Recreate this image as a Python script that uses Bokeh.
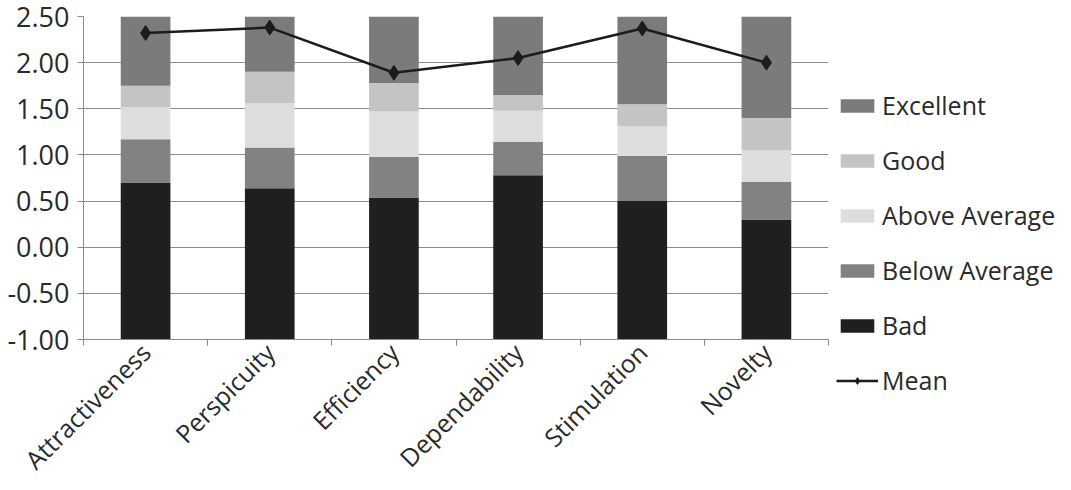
import math
from bokeh.plotting import figure
from bokeh.layouts import row
from bokeh.models import Range1d, FixedTicker, Legend, LegendItem, NumeralTickFormatter
from bokeh.embed import file_html
from bokeh.resources import INLINE

# UEQ scales and benchmark band boundaries
categories = ["Attractiveness", "Perspicuity", "Efficiency", "Dependability", "Stimulation", "Novelty"]
bad_upper = [0.70, 0.64, 0.54, 0.78, 0.50, 0.30]
below_avg_upper = [1.17, 1.08, 0.98, 1.14, 0.99, 0.71]
above_avg_upper = [1.52, 1.56, 1.47, 1.48, 1.31, 1.05]
good_upper = [1.75, 1.90, 1.78, 1.65, 1.55, 1.40]
scale_min = -1.0
scale_max = 2.5
means = [2.32, 2.38, 1.89, 2.05, 2.37, 2.00]
y_ticks = [-1.0, -0.5, 0.0, 0.5, 1.0, 1.5, 2.0, 2.5]

FONT = "Open Sans"
TEXT = "#2a2a2a"
GRID = "#8c8c8c"
MEAN_COLOR = "#1c1c1c"
band_colors = {
    "Bad": "#1f1f1f",
    "Below Average": "#828282",
    "Above Average": "#dedede",
    "Good": "#c4c4c4",
    "Excellent": "#7b7b7b",
}

n = len(categories)
xs = [i + 0.5 for i in range(n)]

p = figure(width=836, height=490, x_range=Range1d(0, n), y_range=Range1d(scale_min, scale_max),
           output_backend="svg", toolbar_location=None,
           min_border_left=83, min_border_right=8, min_border_top=16, min_border_bottom=150)
p.outline_line_color = None
p.background_fill_color = "white"
p.border_fill_color = "white"

bands = [
    ("Bad", [scale_min] * n, bad_upper),
    ("Below Average", bad_upper, below_avg_upper),
    ("Above Average", below_avg_upper, above_avg_upper),
    ("Good", above_avg_upper, good_upper),
    ("Excellent", good_upper, [scale_max] * n),
]
for name, lo, hi in bands:
    p.vbar(x=xs, bottom=lo, top=hi, width=0.4, fill_color=band_colors[name], line_color=None)

p.line(xs, means, line_color=MEAN_COLOR, line_width=2.5)
p.scatter(xs, means, marker="diamond", size=15, fill_color=MEAN_COLOR, line_color=MEAN_COLOR)

# axes
p.xgrid.visible = False
p.ygrid.grid_line_color = GRID
p.ygrid.grid_line_width = 1
p.yaxis.ticker = FixedTicker(ticks=y_ticks)
p.yaxis.formatter = NumeralTickFormatter(format="0.00")
p.yaxis.minor_tick_line_color = None
for ax in (p.xaxis[0], p.yaxis[0]):
    ax.axis_line_color = GRID
    ax.major_label_text_font = FONT
    ax.major_label_text_color = TEXT
p.yaxis.major_label_text_font_size = "27px"
p.xaxis.major_label_text_font_size = "25px"
p.yaxis.major_tick_line_color = GRID
p.yaxis.major_tick_in = 0
p.yaxis.major_tick_out = 6
p.yaxis.major_label_standoff = 8

p.xaxis.ticker = FixedTicker(ticks=xs, minor_ticks=list(range(n + 1)))
p.xaxis.major_label_overrides = {x: c for x, c in zip(xs, categories)}
p.xaxis.major_tick_line_color = None
p.xaxis.minor_tick_line_color = GRID
p.xaxis.minor_tick_in = 0
p.xaxis.minor_tick_out = 6
p.xaxis.major_label_orientation = math.pi / 4
p.xaxis.major_label_standoff = 2

# legend panel to the right of the chart; its swatch renderers sit outside the view
lp = figure(width=235, height=490, output_backend="svg", toolbar_location=None,
            x_axis_location=None, y_axis_location=None, min_border=0,
            x_range=Range1d(0, 1), y_range=Range1d(0, 1))
lp.outline_line_color = None
lp.grid.visible = False
lp.border_fill_color = "white"
try:
    lp.frame_align = False
except AttributeError:
    pass

items = []
for name in ["Excellent", "Good", "Above Average", "Below Average", "Bad"]:
    sw = lp.vbar(x=[-1], bottom=[-1], top=[-1], width=0.4, fill_color=band_colors[name], line_color=None)
    items.append(LegendItem(label=name, renderers=[sw]))
ml = lp.line(x=[-1, -2], y=[-1, -1], line_color=MEAN_COLOR, line_width=2.5)
mm = lp.scatter(x=[-1], y=[-1], marker="diamond", size=13, fill_color=MEAN_COLOR, line_color=MEAN_COLOR)
items.append(LegendItem(label="Mean", renderers=[ml, mm]))

legend = Legend(items=items, location=(0, 93), orientation="vertical",
                glyph_width=42, glyph_height=17, spacing=21,
                label_text_font=FONT, label_text_font_size="25px", label_text_color=TEXT,
                label_standoff=4, padding=0, margin=0,
                border_line_color=None, background_fill_alpha=0)
lp.add_layout(legend, "center")

open("out.html", "w").write(file_html(row(p, lp), INLINE))
